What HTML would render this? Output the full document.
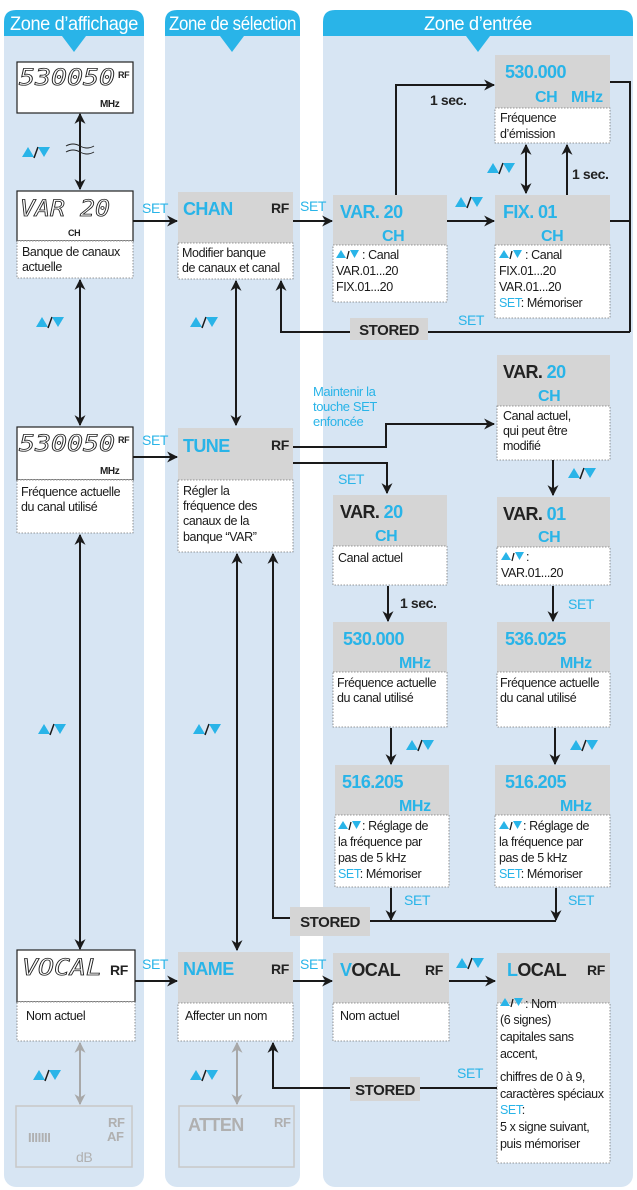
<!DOCTYPE html>
<html><head><meta charset="utf-8"><style>
html,body{margin:0;padding:0;background:#fff;}
svg{display:block;}
text{font-family:"Liberation Sans Narrow","Liberation Sans",sans-serif;letter-spacing:-0.4px;}
.d{font-size:12.5px;fill:#1a1a1a;}
.b{fill:#29b4e8;}
.k{fill:#222;}
.ln{stroke:#1a1a1a;stroke-width:2;fill:none;}
.gl{stroke:#a8a8a8;stroke-width:2;fill:none;}
.desc{fill:#fff;stroke:#777;stroke-width:0.8;stroke-dasharray:1.5,1.5;}
.g{fill:#d5d5d5;}
.seg{font-family:"DejaVu Sans Mono",monospace;font-style:italic;font-size:22px;fill:none;stroke:#222;stroke-width:0.8;letter-spacing:0px;}
.ti{font-size:18px;font-weight:bold;letter-spacing:-0.6px;}
</style></head><body>
<svg width="637" height="1190" viewBox="0 0 637 1190" xmlns="http://www.w3.org/2000/svg">
<defs>
<marker id="a" viewBox="0 0 10 10" refX="9" refY="5" markerWidth="11" markerHeight="11" orient="auto-start-reverse" markerUnits="userSpaceOnUse">
<path d="M0,0 L10,5 L0,10 L3,5 z" fill="#1a1a1a"/></marker>
<marker id="ag" viewBox="0 0 10 10" refX="9" refY="5" markerWidth="11" markerHeight="11" orient="auto-start-reverse" markerUnits="userSpaceOnUse">
<path d="M0,0 L10,5 L0,10 L3,5 z" fill="#a8a8a8"/></marker>
<g id="ud"><path d="M0,10 L6,0 L12,10 z" fill="#29b4e8"/><path d="M12,11 L16,0" stroke="#1a1a1a" stroke-width="1.5"/><path d="M16,0 L28,0 L22,10 z" fill="#29b4e8"/></g>
<g id="uds"><path d="M0,8 L5,0 L10,8 z" fill="#29b4e8"/><path d="M11,9 L13,1" stroke="#1a1a1a" stroke-width="1.3"/><path d="M14,0 L23,0 L18.5,8 z" fill="#29b4e8"/></g>
</defs>

<rect x="4" y="14" width="140" height="1173" rx="12" fill="#d7e5f3"/>
<rect x="165" y="14" width="135" height="1173" rx="12" fill="#d7e5f3"/>
<rect x="323" y="14" width="310" height="1173" rx="12" fill="#d7e5f3"/>
<path d="M4,22 Q4,10 16,10 L132,10 Q144,10 144,22 L144,36 L86,36 L74,52 L62,36 L4,36 z" fill="#29b4e8"/>
<path d="M165,22 Q165,10 177,10 L288,10 Q300,10 300,22 L300,36 L244,36 L232,52 L220,36 L165,36 z" fill="#29b4e8"/>
<path d="M323,22 Q323,10 335,10 L621,10 Q633,10 633,22 L633,36 L490,36 L478,52 L466,36 L323,36 z" fill="#29b4e8"/>
<text x="10" y="30" fill="#fff" font-size="19" textLength="128" lengthAdjust="spacingAndGlyphs">Zone d’affichage</text>
<text x="169" y="30" fill="#fff" font-size="19" textLength="127" lengthAdjust="spacingAndGlyphs">Zone de sélection</text>
<text x="424" y="30" fill="#fff" font-size="19" textLength="108" lengthAdjust="spacingAndGlyphs">Zone d’entrée</text>

<!-- COL1 -->
<rect x="17" y="62" width="116" height="51" fill="#fff" stroke="#222" stroke-width="1.2"/>
<text x="19" y="85" class="seg" textLength="96" lengthAdjust="spacingAndGlyphs">530050</text>
<text x="118" y="78" font-size="9" font-weight="bold" class="k">RF</text>
<text x="100" y="107" font-size="10" font-weight="bold" class="k">MHz</text>
<line x1="80" y1="114" x2="80" y2="189" class="ln" marker-start="url(#a)" marker-end="url(#a)"/>
<path d="M66,146 q7,-4 14,0 t14,0 M66,152 q7,-4 14,0 t14,0" stroke="#222" fill="none" stroke-width="1"/>
<use href="#ud" x="22" y="147"/>

<rect x="17" y="191" width="116" height="50" fill="#fff" stroke="#222" stroke-width="1.2"/>
<text x="20" y="216" class="seg" textLength="90" lengthAdjust="spacingAndGlyphs">VAR 20</text>
<text x="68" y="236" font-size="9" font-weight="bold" class="k">CH</text>
<rect x="17" y="241" width="116" height="37" class="desc"/>
<text x="22" y="256" class="d">Banque de canaux</text>
<text x="22" y="271" class="d">actuelle</text>
<line x1="133" y1="221" x2="177" y2="221" class="ln" marker-end="url(#a)"/>
<text x="142" y="213" font-size="14" class="b">SET</text>

<line x1="80" y1="280" x2="80" y2="425" class="ln" marker-start="url(#a)" marker-end="url(#a)"/>
<use href="#ud" x="36" y="317"/>

<rect x="17" y="427" width="116" height="53" fill="#fff" stroke="#222" stroke-width="1.2"/>
<text x="19" y="451" class="seg" textLength="96" lengthAdjust="spacingAndGlyphs">530050</text>
<text x="118" y="443" font-size="9" font-weight="bold" class="k">RF</text>
<text x="100" y="474" font-size="10" font-weight="bold" class="k">MHz</text>
<rect x="17" y="480" width="116" height="53" class="desc"/>
<text x="21" y="496" class="d">Fréquence actuelle</text>
<text x="21" y="511" class="d">du canal utilisé</text>
<line x1="133" y1="457" x2="177" y2="457" class="ln" marker-end="url(#a)"/>
<text x="142" y="445" font-size="14" class="b">SET</text>

<line x1="80" y1="535" x2="80" y2="949" class="ln" marker-start="url(#a)" marker-end="url(#a)"/>
<use href="#ud" x="38" y="724"/>

<rect x="17" y="950" width="118" height="52" fill="#fff" stroke="#222" stroke-width="1.2"/>
<text x="22" y="975" class="seg" textLength="80" lengthAdjust="spacingAndGlyphs">VOCAL</text>
<text x="110" y="975" font-size="14" font-weight="bold" class="k">RF</text>
<rect x="17" y="1002" width="118" height="39" class="desc"/>
<text x="26" y="1020" class="d">Nom actuel</text>
<line x1="135" y1="981" x2="177" y2="981" class="ln" marker-end="url(#a)"/>
<text x="142" y="969" font-size="14" class="b">SET</text>
<line x1="80" y1="1043" x2="80" y2="1104" class="gl" marker-start="url(#ag)" marker-end="url(#ag)"/>
<use href="#ud" x="33" y="1070"/>
<rect x="16" y="1106" width="116" height="61" fill="none" stroke="#c8c8c8" stroke-width="1.5"/>
<text x="28" y="1142" font-size="13" fill="#b0b0b0" font-weight="bold">IIIIIII</text>
<text x="108" y="1127" font-size="13" fill="#b0b0b0" font-weight="bold">RF</text>
<text x="107" y="1141" font-size="13" fill="#b0b0b0" font-weight="bold">AF</text>
<text x="76" y="1162" font-size="14" fill="#b0b0b0">dB</text>

<!-- COL2 -->
<rect x="178" y="192" width="115" height="51" class="g"/>
<text x="183" y="215" class="ti b">CHAN</text>
<text x="271" y="213" font-size="14" font-weight="bold" class="k">RF</text>
<rect x="178" y="243" width="115" height="36" class="desc"/>
<text x="182" y="257" class="d">Modifier banque</text>
<text x="182" y="272" class="d">de canaux et canal</text>
<line x1="236" y1="281" x2="236" y2="425" class="ln" marker-start="url(#a)" marker-end="url(#a)"/>
<use href="#ud" x="190" y="317"/>
<path d="M630,332 L281,332 L281,281" class="ln" marker-end="url(#a)"/>

<rect x="178" y="428" width="115" height="52" class="g"/>
<text x="183" y="452" class="ti b">TUNE</text>
<text x="271" y="450" font-size="14" font-weight="bold" class="k">RF</text>
<rect x="178" y="480" width="115" height="72" class="desc"/>
<text x="183" y="495" class="d">Régler la</text>
<text x="183" y="510" class="d">fréquence des</text>
<text x="183" y="525" class="d">canaux de la</text>
<text x="183" y="541" class="d">banque “VAR”</text>
<line x1="237" y1="554" x2="237" y2="950" class="ln" marker-start="url(#a)" marker-end="url(#a)"/>
<use href="#ud" x="193" y="724"/>
<path d="M292,918 L273,918 L273,554" class="ln" marker-end="url(#a)"/>

<rect x="178" y="952" width="115" height="51" class="g"/>
<text x="183" y="975" class="ti b">NAME</text>
<text x="271" y="974" font-size="14" font-weight="bold" class="k">RF</text>
<rect x="178" y="1003" width="115" height="38" class="desc"/>
<text x="185" y="1020" class="d">Affecter un nom</text>
<line x1="293" y1="981" x2="332" y2="981" class="ln" marker-end="url(#a)"/>
<text x="300" y="969" font-size="14" class="b">SET</text>
<line x1="237" y1="1043" x2="237" y2="1104" class="gl" marker-start="url(#ag)" marker-end="url(#ag)"/>
<use href="#ud" x="190" y="1070"/>
<path d="M350,1088 L273,1088 L273,1043" class="ln" marker-end="url(#a)"/>
<rect x="179" y="1106" width="115" height="61" fill="none" stroke="#c8c8c8" stroke-width="1.5"/>
<text x="188" y="1131" class="ti" fill="#b0b0b0">ATTEN</text>
<text x="274" y="1127" font-size="13" fill="#b0b0b0" font-weight="bold">RF</text>

<!-- COL3 top -->
<line x1="293" y1="221" x2="332" y2="221" class="ln" marker-end="url(#a)"/>
<text x="300" y="211" font-size="14" class="b">SET</text>
<rect x="333" y="195" width="114" height="50" class="g"/>
<text x="340" y="218" class="ti b">VAR.  20</text>
<text x="382" y="241" font-size="16" font-weight="bold" class="b">CH</text>
<rect x="333" y="245" width="114" height="57" class="desc"/>
<use href="#uds" x="336" y="250"/><text x="362" y="259" class="d">: Canal</text>
<text x="336" y="275" class="d">VAR.01...20</text>
<text x="336" y="291" class="d">FIX.01...20</text>
<path d="M396,195 L396,85 L494,85" class="ln" marker-end="url(#a)"/>
<text x="430" y="105" font-size="14" font-weight="bold" class="k">1 sec.</text>
<line x1="447" y1="221" x2="494" y2="221" class="ln" marker-end="url(#a)"/>
<use href="#ud" x="455" y="197"/>

<rect x="495" y="55" width="115" height="53" class="g"/>
<text x="505" y="78" class="ti b">530.000</text>
<text x="535" y="102" font-size="16" font-weight="bold" class="b">CH</text>
<text x="571" y="102" font-size="16" font-weight="bold" class="b">MHz</text>
<rect x="495" y="108" width="115" height="35" class="desc"/>
<text x="500" y="122" class="d">Fréquence</text>
<text x="500" y="138" class="d">d’émission</text>
<line x1="526" y1="145" x2="526" y2="193" class="ln" marker-start="url(#a)" marker-end="url(#a)"/>
<use href="#ud" x="487" y="163"/>
<line x1="567" y1="195" x2="567" y2="145" class="ln" marker-end="url(#a)"/>
<text x="572" y="179" font-size="14" font-weight="bold" class="k">1 sec.</text>

<rect x="495" y="195" width="115" height="50" class="g"/>
<text x="503" y="218" class="ti b">FIX.  01</text>
<text x="541" y="241" font-size="16" font-weight="bold" class="b">CH</text>
<rect x="495" y="245" width="115" height="73" class="desc"/>
<use href="#uds" x="499" y="250"/><text x="525" y="259" class="d">: Canal</text>
<text x="499" y="275" class="d">FIX.01...20</text>
<text x="499" y="291" class="d">VAR.01...20</text>
<text x="499" y="307" class="d"><tspan class="b">SET</tspan>: Mémoriser</text>
<path d="M610,82 L630,82 L630,332 M610,221 L630,221" class="ln"/>
<text x="458" y="325" font-size="14" class="b">SET</text>
<rect x="350" y="318" width="78" height="22" class="g"/>
<text x="389" y="335" text-anchor="middle" font-size="15" font-weight="bold" class="k">STORED</text>

<!-- COL3 mid -->
<text x="313" y="396" font-size="13" class="b">Maintenir la</text>
<text x="313" y="411" font-size="13" class="b">touche SET</text>
<text x="313" y="426" font-size="13" class="b">enfoncée</text>
<path d="M293,447 L386,447 L386,424 L494,424" class="ln" marker-end="url(#a)"/>
<path d="M293,463 L387,463 L387,493" class="ln" marker-end="url(#a)"/>
<text x="338" y="484" font-size="14" class="b">SET</text>

<rect x="497" y="355" width="113" height="51" class="g"/>
<text x="503" y="378" class="ti k">VAR.  <tspan class="b">20</tspan></text>
<text x="538" y="401" font-size="16" font-weight="bold" class="b">CH</text>
<rect x="497" y="406" width="113" height="54" class="desc"/>
<text x="503" y="420" class="d">Canal actuel,</text>
<text x="503" y="435" class="d">qui peut être</text>
<text x="503" y="450" class="d">modifié</text>
<line x1="553" y1="460" x2="553" y2="495" class="ln" marker-end="url(#a)"/>
<use href="#ud" x="568" y="468"/>

<rect x="333" y="495" width="114" height="51" class="g"/>
<text x="340" y="518" class="ti k">VAR.  <tspan class="b">20</tspan></text>
<text x="375" y="541" font-size="16" font-weight="bold" class="b">CH</text>
<rect x="333" y="546" width="114" height="39" class="desc"/>
<text x="338" y="562" class="d">Canal actuel</text>

<rect x="497" y="497" width="113" height="50" class="g"/>
<text x="503" y="520" class="ti k">VAR.  <tspan class="b">01</tspan></text>
<text x="538" y="542" font-size="16" font-weight="bold" class="b">CH</text>
<rect x="497" y="547" width="113" height="38" class="desc"/>
<use href="#uds" x="501" y="552"/><text x="526" y="561" class="d">:</text>
<text x="501" y="577" class="d">VAR.01...20</text>

<line x1="388" y1="586" x2="388" y2="621" class="ln" marker-end="url(#a)"/>
<text x="400" y="608" font-size="14" font-weight="bold" class="k">1 sec.</text>
<line x1="553" y1="586" x2="553" y2="621" class="ln" marker-end="url(#a)"/>
<text x="568" y="609" font-size="14" class="b">SET</text>

<rect x="333" y="622" width="114" height="50" class="g"/>
<text x="343" y="645" class="ti b">530.000</text>
<text x="399" y="668" font-size="16" font-weight="bold" class="b">MHz</text>
<rect x="333" y="672" width="114" height="55" class="desc"/>
<text x="337" y="687" class="d">Fréquence actuelle</text>
<text x="337" y="702" class="d">du canal utilisé</text>
<rect x="497" y="622" width="113" height="50" class="g"/>
<text x="505" y="645" class="ti b">536.025</text>
<text x="560" y="668" font-size="16" font-weight="bold" class="b">MHz</text>
<rect x="497" y="672" width="113" height="55" class="desc"/>
<text x="500" y="687" class="d">Fréquence actuelle</text>
<text x="500" y="702" class="d">du canal utilisé</text>

<line x1="391" y1="728" x2="391" y2="764" class="ln" marker-end="url(#a)"/>
<use href="#ud" x="406" y="740"/>
<line x1="555" y1="728" x2="555" y2="764" class="ln" marker-end="url(#a)"/>
<use href="#ud" x="570" y="740"/>

<rect x="335" y="765" width="114" height="50" class="g"/>
<text x="342" y="788" class="ti b">516.205</text>
<text x="399" y="811" font-size="16" font-weight="bold" class="b">MHz</text>
<rect x="335" y="815" width="114" height="72" class="desc"/>
<use href="#uds" x="338" y="821"/><text x="362" y="830" class="d">:  Réglage de</text>
<text x="338" y="846" class="d">la fréquence par</text>
<text x="338" y="862" class="d">pas de 5 kHz</text>
<text x="338" y="878" class="d"><tspan class="b">SET</tspan>: Mémoriser</text>
<rect x="495" y="765" width="115" height="50" class="g"/>
<text x="505" y="788" class="ti b">516.205</text>
<text x="560" y="811" font-size="16" font-weight="bold" class="b">MHz</text>
<rect x="495" y="815" width="115" height="72" class="desc"/>
<use href="#uds" x="499" y="821"/><text x="523" y="830" class="d">:  Réglage de</text>
<text x="499" y="846" class="d">la fréquence par</text>
<text x="499" y="862" class="d">pas de 5 kHz</text>
<text x="499" y="878" class="d"><tspan class="b">SET</tspan>: Mémoriser</text>

<line x1="391" y1="888" x2="391" y2="920" class="ln" marker-end="url(#a)"/>
<text x="404" y="905" font-size="14" class="b">SET</text>
<line x1="556" y1="888" x2="556" y2="920" class="ln" marker-end="url(#a)"/>
<text x="568" y="905" font-size="14" class="b">SET</text>
<line x1="370" y1="921" x2="556" y2="921" class="ln"/>
<rect x="290" y="907" width="80" height="29" class="g"/>
<text x="330" y="927" text-anchor="middle" font-size="15" font-weight="bold" class="k">STORED</text>

<!-- COL3 bottom -->
<rect x="333" y="953" width="116" height="50" class="g"/>
<text x="340" y="976" class="ti k"><tspan class="b">V</tspan>OCAL</text>
<text x="425" y="975" font-size="14" font-weight="bold" class="k">RF</text>
<rect x="333" y="1003" width="116" height="38" class="desc"/>
<text x="340" y="1020" class="d">Nom actuel</text>
<line x1="449" y1="981" x2="495" y2="981" class="ln" marker-end="url(#a)"/>
<use href="#ud" x="456" y="958"/>

<rect x="497" y="953" width="113" height="50" class="g"/>
<text x="507" y="976" class="ti k"><tspan class="b">L</tspan>OCAL</text>
<text x="587" y="975" font-size="14" font-weight="bold" class="k">RF</text>
<rect x="497" y="1003" width="113" height="160" class="desc"/>
<use href="#uds" x="500" y="998"/><text x="525" y="1008" class="d">: Nom</text>
<text x="500" y="1024" class="d">(6 signes)</text>
<text x="500" y="1041" class="d">capitales sans</text>
<text x="500" y="1058" class="d">accent,</text>
<text x="500" y="1081" class="d">chiffres de 0 à 9,</text>
<text x="500" y="1098" class="d">caractères spéciaux</text>
<text x="500" y="1114" class="d b">SET<tspan class="k">:</tspan></text>
<text x="500" y="1131" class="d">5 x signe suivant,</text>
<text x="500" y="1148" class="d">puis mémoriser</text>
<line x1="418" y1="1088" x2="497" y2="1088" class="ln"/>
<text x="457" y="1078" font-size="14" class="b">SET</text>
<rect x="350" y="1077" width="70" height="24" class="g"/>
<text x="385" y="1095" text-anchor="middle" font-size="15" font-weight="bold" class="k">STORED</text>
</svg>
</body></html>
